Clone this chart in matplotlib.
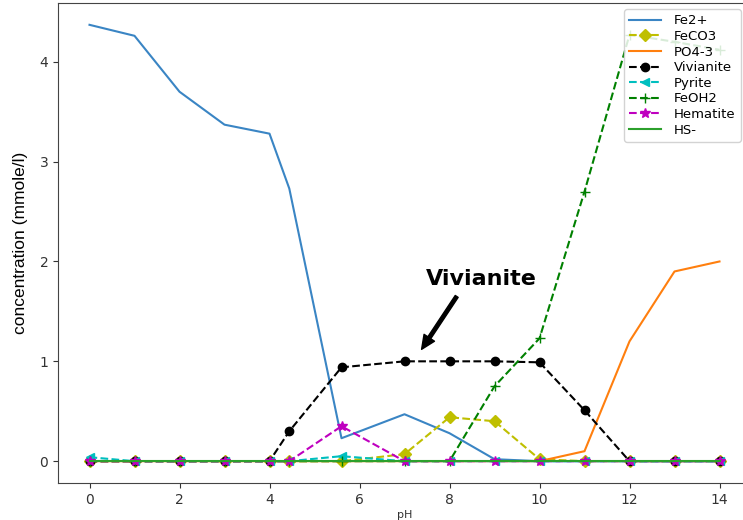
import matplotlib
matplotlib.use("Agg")
import matplotlib.pyplot as plt

ph = [0, 1, 2, 3, 4, 4.44, 5.6, 7, 8, 9, 10, 11, 12, 13, 14]
fe2 = [4.37, 4.26, 3.70, 3.37, 3.28, 2.73, 0.23, 0.47, 0.28, 0.02, 0.0, 0.0, 0.0, 0.0, 0.0]
feco3 = [0.0, 0.0, 0.0, 0.0, 0.0, 0.0, 0.0, 0.07, 0.44, 0.40, 0.02, 0.0, 0.0, 0.0, 0.0]
po4 = [0.0, 0.0, 0.0, 0.0, 0.0, 0.0, 0.0, 0.0, 0.0, 0.0, 0.0, 0.10, 1.20, 1.90, 2.00]
vivianite = [0.0, 0.0, 0.0, 0.0, 0.0, 0.30, 0.94, 1.00, 1.00, 1.00, 0.99, 0.51, 0.0, 0.0, 0.0]
pyrite = [0.04, 0.0, 0.0, 0.0, 0.0, 0.0, 0.05, 0.0, 0.0, 0.0, 0.0, 0.0, 0.0, 0.0, 0.0]
feoh2 = [0.0, 0.0, 0.0, 0.0, 0.0, 0.0, 0.0, 0.0, 0.0, 0.75, 1.23, 2.70, 4.27, 4.20, 4.12]
hematite = [0.0, 0.0, 0.0, 0.0, 0.0, 0.0, 0.35, 0.0, 0.0, 0.0, 0.0, 0.0, 0.0, 0.0, 0.0]
hs = [0.0] * len(ph)

fig = plt.figure(figsize=(7.43, 5.2), dpi=100)
ax = fig.add_axes([58 / 743, 37 / 520, 693 / 743, 480 / 520])

ax.plot(ph, fe2, '-', color='#3a85c4', label='Fe2+')
ax.plot(ph, feco3, 'y--', marker='D', markersize=6, label='FeCO3')
ax.plot(ph, po4, '-', color='C1', label='PO4-3')
ax.plot(ph, vivianite, 'k--', marker='o', markersize=6, label='Vivianite')
ax.plot(ph, pyrite, 'c--', marker='<', markersize=6, label='Pyrite')
ax.plot(ph, feoh2, 'g--', marker='+', markersize=7, label='FeOH2')
ax.plot(ph, hematite, 'm--', marker='*', markersize=7, label='Hematite')
ax.plot(ph, hs, '-', color='C2', label='HS-')

ax.set_xlim(-0.7, 14.7)
ax.set_ylim(-0.2185, 4.5885)
ax.set_xticks([0, 2, 4, 6, 8, 10, 12, 14])
ax.set_yticks([0, 1, 2, 3, 4])
ax.tick_params(labelsize=10, colors='#333333')
for s in ax.spines.values():
    s.set_color('#444444')

ax.set_xlabel('pH', fontsize=8, color='#333333', labelpad=2)
ax.set_ylabel('concentration (mmole/l)', fontsize=12.5, family='Liberation Sans', labelpad=8)

ax.text(8.7, 1.82, 'Vivianite', fontsize=16, fontweight='bold', family='DejaVu Sans',
        ha='center', va='center')
ax.annotate('', xy=(7.38, 1.12), xytext=(8.16, 1.65),
            arrowprops=dict(facecolor='black', edgecolor='black', width=2.5,
                            headwidth=9, headlength=10, shrink=0.0))

leg = ax.legend(loc='upper right', bbox_to_anchor=(741 / 743, 1 - 9 / 520),
                bbox_transform=fig.transFigure, fontsize=9.5, borderaxespad=0,
                labelspacing=0.2, handlelength=2.4, handletextpad=1.0,
                borderpad=0.4, framealpha=0.85)

fig.savefig('out.png', dpi=100)
